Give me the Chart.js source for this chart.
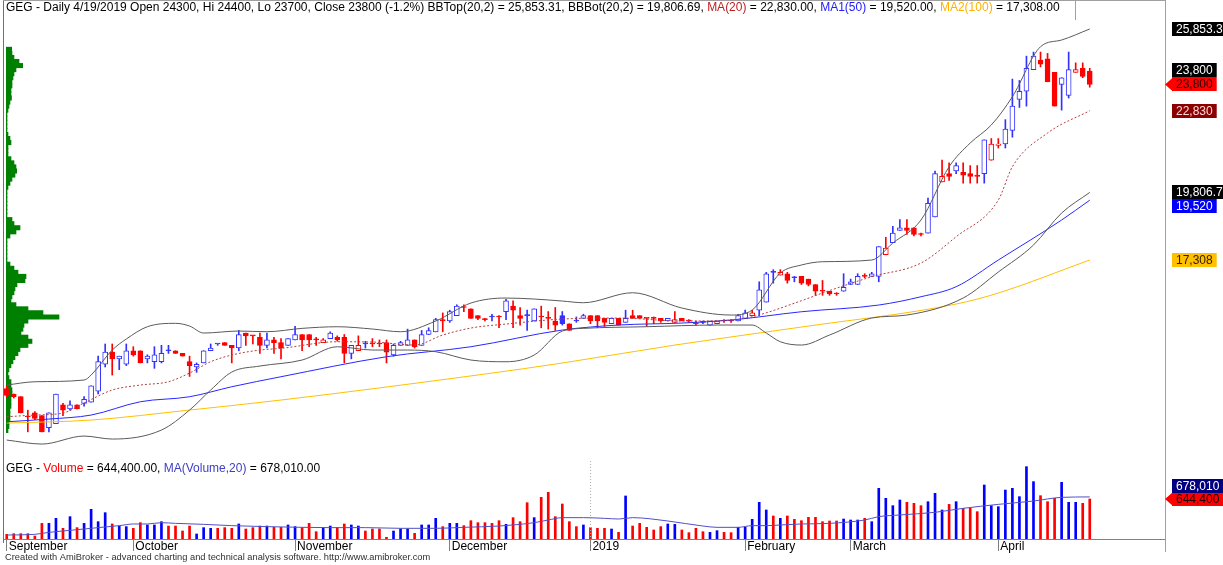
<!DOCTYPE html>
<html>
<head>
<meta charset="utf-8">
<script src="https://cdn.jsdelivr.net/npm/chart.js@4.4.1/dist/chart.umd.min.js"></script>
<style>
  html, body { margin: 0; padding: 0; background: #fff; }
  #wrap { position: relative; width: 1223px; height: 565px; overflow: hidden; }
  canvas { position: absolute; left: 0; }
</style>
</head>
<body>
<div id="wrap">
  <canvas id="vap" width="200" height="459" style="top:0"></canvas>
  <canvas id="price" width="1223" height="459" style="top:0"></canvas>
  <canvas id="vol" width="1223" height="106" style="top:459px"></canvas>
</div>
<script>
// month labels on the time axis and the bar index where each month starts
const months = ['September', 'October', 'November', 'December', '2019', 'February', 'March', 'April'];
const monthStart = [0, 18, 41, 63, 83, 105, 120, 141];

// daily OHLC, Sep 2018 .. 19 Apr 2019
const opens = [12550,12350,12250,11500,11650,11550,11100,11250,11950,11800,11950,12000,12050,12450,13450,13900,13650,13450,13950,13950,
  13650,13550,13550,13950,13950,13850,13550,13350,13500,13950,14200,14250,14150,14050,14600,14500,14450,14150,14350,14250,
  14150,14350,14550,14550,14350,14250,14400,14450,14450,13850,13950,14200,14200,14200,14250,13800,14150,14150,14350,14150,
  14550,14650,15100,15050,15250,15550,15500,15250,15100,15200,15200,15400,15600,15250,15250,15050,15200,15150,15050,15250,
  14950,15050,15150,15250,15250,15150,14950,15150,15000,15250,15250,15150,15150,15150,15050,15000,15150,15050,14950,15000,
  14900,14950,15050,15050,15050,15150,15250,15450,15750,16850,16750,16800,16650,16700,16600,16400,16150,16150,16050,16150,
  16400,16400,16700,16700,16700,17500,17950,18400,18500,18500,18250,18300,18900,20200,20500,20600,20550,20500,20450,20500,
  21000,21550,21600,22100,23250,23550,24350,24700,24750,24250,23800,23400,24250,24400,24300];
const highs = [12650,12350,12250,11750,11700,11550,11650,12350,12000,12100,11950,12250,12650,13750,14200,14200,13750,14200,14100,13950,
  13800,14100,14150,14150,13950,13850,13750,13500,13950,14200,14200,14250,14150,14700,14600,14500,14600,14600,14450,14400,
  14400,14850,14550,14550,14450,14400,14650,14500,14550,14150,14500,14300,14400,14350,14350,14200,14300,14750,14350,14700,
  14800,15150,15350,15450,15650,15650,15500,15250,15150,15300,15250,15850,15800,15550,15450,15500,15600,15400,15550,15400,
  14950,15200,15300,15250,15250,15150,15150,15150,15450,15450,15250,15150,15200,15150,15150,15400,15150,15100,15050,15050,
  15050,15050,15100,15100,15300,15450,15450,16500,16850,16950,16950,16850,16700,16700,16600,16400,16550,16150,16100,16800,
  16600,16800,16800,16850,17800,18150,18550,18800,18800,18500,18300,19600,20600,21000,20900,20900,20900,20800,20800,21750,
  21800,21800,22500,24000,23950,24850,25000,25000,24950,24250,24050,25000,24600,24600,24400];
const lows = [12250,12200,11650,10950,11400,10950,10950,11250,11550,11750,11800,11900,12050,12350,13350,13050,13250,13400,13750,13500,
  13500,13300,13500,13850,13850,13750,13000,13150,13500,13950,14150,14150,13500,13950,14150,14200,13850,14050,13850,13650,
  14150,14350,13950,14100,14150,14250,14400,14300,13500,13650,13950,14050,14100,14100,13500,13750,14150,14150,14050,14150,
  14550,14650,14650,15000,15250,15400,15150,15100,15050,15050,14800,15100,14800,14900,14700,15050,14800,14750,14700,14900,
  14700,15000,15150,14950,14800,14850,14950,14900,15000,15150,15150,14850,14950,15000,15050,15000,15050,15000,14900,14950,
  14900,14950,15000,15000,15050,15150,15250,15250,15750,16450,16750,16450,16500,16400,16350,16000,16000,16000,16000,16150,
  16400,16400,16650,16700,16500,17500,17950,18400,18250,18200,18200,18300,18900,20200,20250,20500,20150,20150,20150,20150,
  21000,21450,21450,21850,22950,23000,24350,24450,23900,23000,22850,23300,24250,24050,23700];
const closes = [12300,12250,11650,11500,11450,10950,11650,12350,11750,11950,11800,12150,12650,13550,13900,13650,13750,13950,13800,13500,
  13750,13800,13850,13950,13850,13750,13400,13450,13950,14050,14200,14150,14050,14550,14500,14500,14150,14350,14250,14050,
  14400,14550,14350,14350,14350,14350,14600,14350,13850,14150,14150,14200,14200,14200,13900,14150,14250,14350,14100,14550,
  14700,15100,15050,15400,15600,15550,15150,15150,15100,15200,15200,15800,15450,15150,15250,15500,15200,15150,14900,14950,
  14700,15050,15250,15050,15050,15000,15150,14900,15150,15150,15150,15150,15150,15050,15150,15100,15050,15050,14950,15000,
  15050,15050,15050,15050,15250,15350,15350,16200,16800,16850,16850,16550,16650,16450,16400,16150,16150,16050,16050,16300,
  16500,16700,16700,16800,17800,17750,18300,18500,18400,18250,18250,19400,20500,20400,20400,20800,20450,20400,20400,21750,
  21600,21600,22150,23000,23550,24400,24850,24550,23900,23000,24050,24350,24350,24100,23800];
const volumes = [75000,86000,86000,86000,48000,252000,252000,333000,172000,360000,183000,252000,478000,279000,424000,242000,209000,199000,172000,263000,
  226000,226000,279000,209000,209000,129000,209000,81000,183000,172000,172000,183000,172000,242000,161000,183000,209000,209000,188000,188000,
  226000,199000,183000,252000,118000,183000,209000,183000,242000,226000,209000,129000,161000,161000,27000,129000,165000,161000,91000,226000,
  226000,333000,199000,252000,252000,215000,295000,263000,263000,252000,295000,236000,344000,279000,585000,344000,671000,752000,360000,564000,
  279000,199000,226000,183000,172000,172000,161000,107000,693000,209000,252000,188000,145000,199000,242000,236000,145000,102000,172000,118000,
  107000,134000,107000,102000,188000,188000,317000,591000,467000,371000,333000,371000,317000,295000,349000,349000,279000,290000,290000,322000,
  306000,306000,333000,279000,816000,655000,537000,628000,591000,575000,537000,601000,736000,467000,558000,601000,494000,494000,440000,870000,
  537000,521000,789000,816000,682000,1165000,924000,698000,601000,655000,913000,591000,591000,575000,644400];

// indicator lines at these bar indexes
const ma20Bar = [0,4,8,11,15,19,23,26,29,32,36,39,47,52,58,62,66,71,79,87,96,103,106,113,116,123,130,135,141,143,148,154];
const ma20 = [11508,11571,11645,12015,12496,12681,12803,13125,13543,13791,13976,14039,14283,14272,14161,14531,14790,14938,15123,15160,
  15049,15086,15208,15800,16085,16688,17195,18168,19526,20758,22005,22830];
const ma50Bar = [0,6,12,19,26,32,39,54,66,79,87,96,103,113,124,130,135,141,150,154];
const ma50 = [11323,11423,11571,12063,12248,12618,12988,13728,14098,14716,14901,14975,15086,15393,15641,15948,16318,17306,18786,19520];
const ma100Bar = [0,12,26,39,68,79,95,113,135,141,154];
const ma100 = [11275,11386,11756,12126,13088,13495,14161,14827,15678,16085,17308];
const bbTopBar = [0,4,11,12,15,17,20,24,26,28,33,37,42,47,52,56,61,66,71,75,79,82,89,96,103,106,110,113,116,123,126,130,134,137,140,143,147,150,154];
const bbTop = [12681,12803,12866,13051,13976,14383,14839,14964,14864,14605,14679,14654,14778,14838,14753,14653,15049,15715,15900,15863,
  15789,15726,16096,15530,15271,15456,16825,17121,17243,17306,17935,18786,20758,21635,22301,23348,25198,25446,25853.31];
const bbBotBar = [0,5,11,15,22,26,29,32,36,42,47,52,57,61,66,71,75,79,82,91,101,106,108,110,113,117,123,128,136,141,146,150,154];
const bbBot = [10646,10498,10794,10683,11016,11756,12496,13162,13384,13606,14098,13976,13976,13914,13606,13543,13791,14679,14778,14839,
  14901,14901,14605,14283,14161,14531,15160,15271,15900,16862,17861,19045,19806.69];
const vmaBar = [0,4,6,8,11,13,16,18,20,22,24,28,32,37,42,46,51,56,61,65,70,72,75,77,79,82,85,87,89,94,99,101,104,106,108,110,113,117,122,124,127,132,136,141,146,150,154];
const vma = [64000,75000,107000,129000,161000,183000,215000,242000,242000,263000,252000,236000,215000,199000,188000,183000,183000,172000,172000,188000,
  209000,226000,263000,306000,344000,344000,333000,322000,344000,290000,209000,188000,188000,215000,215000,226000,242000,252000,306000,360000,
  387000,430000,494000,558000,612000,671000,678010];

// volume-at-price profile (relative units), one bin every vapStep from vapTop down
const vapTop = 25100, vapStep = 150;
const vapVolume = [5.7,6,8,13,16.7,10,8,7,6,6, 5,5,5.5,4,3,2,1,1,1,1, 1,2,4,5,2,2,2,5,8,10, 10.7,9,6,4,2,1,1,1,1,1,
  1,1,6,8,14,10,4,1,1,1, 1,1,1,4,8,12,20,19,11,9, 8,6,5,10,22,37,53,22,18,17, 15,22,26,22,14,12,9,7,5,3,
  2,3,5,5,6,6,5,5,5,4, 4,4,3,3,2];

const BLUE = '#3232ff', RED = '#ff0000';
const FONT = '"Liberation Sans", Arial, sans-serif';
const last = closes.length - 1;
const xMin = -0.53, xMax = 164.7;
const priceMin = 9945, priceMax = 26186;

function candleColor(i) { return i > 0 && closes[i] > closes[i - 1] ? BLUE : RED; }
function volColor(i) { return closes[i] > opens[i] ? '#0000ff' : '#ff0000'; }
function pts(bars, vals) { return bars.map((b, k) => ({ x: b, y: vals[k] })); }
function fmt(v, d) { return v.toLocaleString('en-US', { minimumFractionDigits: d, maximumFractionDigits: d }); }

function drawRuns(ctx, x, y, runs) {
  ctx.font = '12px ' + FONT;
  ctx.textBaseline = 'alphabetic';
  ctx.textAlign = 'left';
  runs.forEach(r => { ctx.fillStyle = r[1]; ctx.fillText(r[0], x, y); x += ctx.measureText(r[0]).width; });
}

function drawTag(ctx, y, text, bg, fg, arrow) {
  ctx.font = '12px ' + FONT;
  const h = 14, x = 1172;
  const w = ctx.measureText(text).width + 8;
  ctx.fillStyle = bg;
  ctx.fillRect(x, Math.round(y - h / 2), w, h);
  if (arrow) {
    ctx.beginPath();
    ctx.moveTo(1165, y); ctx.lineTo(x + 1, y - h / 2); ctx.lineTo(x + 1, y + h / 2);
    ctx.closePath(); ctx.fill();
  }
  ctx.fillStyle = fg;
  ctx.textBaseline = 'middle';
  ctx.textAlign = 'left';
  ctx.fillText(text, x + 4, Math.round(y - h / 2) + h / 2 + 0.5);
}

// first tag stays on its value, the others are pushed off it
function placeTags(tags, h) {
  const placed = [tags[0]];
  tags.slice(1).forEach(t => {
    placed.forEach(p => {
      if (Math.abs(t.y - p.y) < h) t.y = t.value >= p.value ? p.y - h : p.y + h;
    });
    placed.push(t);
  });
  return tags;
}

function line(ctx, x1, y1, x2, y2, color, dash) {
  ctx.save();
  ctx.strokeStyle = color; ctx.lineWidth = 1;
  ctx.setLineDash(dash || []);
  ctx.beginPath(); ctx.moveTo(x1, y1); ctx.lineTo(x2, y2); ctx.stroke();
  ctx.restore();
}

// ---------- volume at price (drawn under the price panel) ----------
new Chart(document.getElementById('vap'), {
  type: 'bar',
  data: {
    datasets: [{
      data: vapVolume.map((v, k) => ({ x: v, y: vapTop - k * vapStep })),
      backgroundColor: '#008000',
      barThickness: 4.4,
      borderWidth: 0
    }]
  },
  options: {
    indexAxis: 'y',
    responsive: false,
    animation: false,
    layout: { padding: { left: 6, top: 20, right: 0, bottom: 0 } },
    plugins: { legend: { display: false }, tooltip: { enabled: false } },
    scales: {
      x: { type: 'linear', min: 0, max: 194, display: false },
      y: { type: 'linear', min: priceMin, max: priceMax, offset: false, display: false }
    }
  }
});

// ---------- price panel ----------
const priceDecor = {
  id: 'priceDecor',
  afterDraw(chart) {
    const ctx = chart.ctx, ys = chart.scales.y;
    line(ctx, 3.5, 0, 3.5, 459, '#707070');
    line(ctx, 3, 0.5, 1165, 0.5, '#a0a0a0');
    line(ctx, 1165.5, 0, 1165.5, 459, '#a0a0a0');
    line(ctx, 1075.5, 0, 1075.5, 20, '#a0a0a0');
    line(ctx, 3, 459.5, 1165, 459.5, '#a0a0a0');
    const chg = (closes[last] - closes[last - 1]) / closes[last - 1] * 100;
    drawRuns(ctx, 6, 11, [
      ['GEG - Daily 4/19/2019 Open ' + opens[last] + ', Hi ' + highs[last] + ', Lo ' + lows[last] + ', Close ' + closes[last] +
        ' (' + chg.toFixed(1) + '%) BBTop(20,2) = ' + fmt(bbTop[bbTop.length - 1], 2) + ', BBBot(20,2) = ' + fmt(bbBot[bbBot.length - 1], 2) + ', ', '#000'],
      ['MA(20)', '#c02020'], [' = ' + fmt(ma20[ma20.length - 1], 2) + ', ', '#000'],
      ['MA1(50)', '#2020ff'], [' = ' + fmt(ma50[ma50.length - 1], 2) + ', ', '#000'],
      ['MA2(100)', '#ffb000'], [' = ' + fmt(ma100[ma100.length - 1], 2), '#000']
    ]);
    const v1 = v => v.toLocaleString('en-US', { maximumFractionDigits: 1 });
    const tags = placeTags([
      { value: closes[last], bg: '#ff0000', fg: '#200000', arrow: true },
      { value: closes[last], bg: '#000000', fg: '#ffffff' },
      { value: bbTop[bbTop.length - 1], bg: '#000000', fg: '#ffffff' },
      { value: ma20[ma20.length - 1], bg: '#8b0000', fg: '#ffd8d8' },
      { value: bbBot[bbBot.length - 1], bg: '#000000', fg: '#ffffff' },
      { value: ma50[ma50.length - 1], bg: '#0000ff', fg: '#ffffff' },
      { value: ma100[ma100.length - 1], bg: '#ffc000', fg: '#302000' }
    ].map(t => Object.assign(t, { y: ys.getPixelForValue(t.value) })), 14);
    tags.forEach(t => drawTag(ctx, t.y, v1(t.value), t.bg, t.fg, t.arrow));
  }
};

new Chart(document.getElementById('price'), {
  type: 'bar',
  data: {
    datasets: [
      { type: 'line', data: pts(bbTopBar, bbTop), borderColor: '#5a5a5a', borderWidth: 1, pointRadius: 0, cubicInterpolationMode: 'monotone', order: 0 },
      { type: 'line', data: pts(bbBotBar, bbBot), borderColor: '#5a5a5a', borderWidth: 1, pointRadius: 0, cubicInterpolationMode: 'monotone', order: 0 },
      { type: 'line', data: pts(ma20Bar, ma20), borderColor: '#b04040', borderWidth: 1, borderDash: [2, 2], pointRadius: 0, cubicInterpolationMode: 'monotone', order: 0 },
      { type: 'line', data: pts(ma50Bar, ma50), borderColor: '#2828ff', borderWidth: 1, pointRadius: 0, cubicInterpolationMode: 'monotone', order: 0 },
      { type: 'line', data: pts(ma100Bar, ma100), borderColor: '#ffc000', borderWidth: 1, pointRadius: 0, cubicInterpolationMode: 'monotone', order: 0 },
      {
        data: closes.map((c, i) => ({ x: i, y: [Math.min(opens[i], c), Math.max(opens[i], c)] })),
        backgroundColor: ctx => { const i = ctx.dataIndex || 0; return closes[i] > opens[i] ? '#ffffff' : candleColor(i); },
        borderColor: ctx => candleColor(ctx.dataIndex || 0),
        borderWidth: 1, borderSkipped: false, barThickness: 5, minBarLength: 1, grouped: false, order: 1
      },
      {
        data: closes.map((c, i) => ({ x: i, y: [lows[i], highs[i]] })),
        backgroundColor: ctx => candleColor(ctx.dataIndex || 0),
        borderWidth: 0, barThickness: 1, minBarLength: 1, grouped: false, order: 2
      }
    ]
  },
  options: {
    responsive: false,
    animation: false,
    layout: { padding: { left: 3, right: 58, top: 20, bottom: 0 } },
    plugins: { legend: { display: false }, tooltip: { enabled: false } },
    scales: {
      x: { type: 'linear', min: xMin, max: xMax, offset: false, display: false },
      y: { type: 'linear', min: priceMin, max: priceMax, display: false }
    }
  },
  plugins: [priceDecor]
});

// ---------- volume panel ----------
const volDecor = {
  id: 'volDecor',
  afterDraw(chart) {
    const ctx = chart.ctx, xs = chart.scales.x, ys = chart.scales.y;
    line(ctx, 3.5, 0, 3.5, 84, '#707070');
    line(ctx, 1165.5, 0, 1165.5, 93, '#a0a0a0');
    const xj = Math.round(xs.getPixelForValue(monthStart[4])) + 0.5;
    line(ctx, xj, 2, xj, 80, '#b0b0b0', [1, 2]);
    drawRuns(ctx, 6, 13, [
      ['GEG - ', '#000'], ['Volume', '#ff0000'], [' = ' + fmt(volumes[last], 2) + ', ', '#000'],
      ['MA(Volume,20)', '#4040c0'], [' = ' + fmt(vma[vma.length - 1], 2), '#000']
    ]);
    ctx.font = '9.3px ' + FONT;
    ctx.fillStyle = '#303030';
    ctx.textBaseline = 'alphabetic';
    ctx.fillText('Created with AmiBroker - advanced charting and technical analysis software. http://www.amibroker.com', 5, 101);
    const tags = placeTags([
      { value: volumes[last], bg: '#ff0000', fg: '#200000', arrow: true },
      { value: vma[vma.length - 1], bg: '#000080', fg: '#ffffff' }
    ].map(t => Object.assign(t, { y: ys.getPixelForValue(t.value) })), 13);
    tags.forEach(t => drawTag(ctx, t.y, t.value.toLocaleString('en-US', { maximumFractionDigits: 0 }), t.bg, t.fg, t.arrow));
  }
};

new Chart(document.getElementById('vol'), {
  type: 'bar',
  data: {
    datasets: [
      { type: 'line', data: pts(vmaBar, vma), borderColor: '#5050c8', borderWidth: 1, pointRadius: 0, cubicInterpolationMode: 'monotone', order: 0 },
      {
        data: volumes.map((v, i) => ({ x: i, y: v })),
        backgroundColor: ctx => volColor(ctx.dataIndex || 0),
        borderWidth: 0, barThickness: 2, grouped: false, order: 1
      }
    ]
  },
  options: {
    responsive: false,
    animation: false,
    layout: { padding: { left: 3, right: 58, top: 0, bottom: 0 } },
    plugins: { legend: { display: false }, tooltip: { enabled: false } },
    scales: {
      x: {
        type: 'linear', min: xMin, max: xMax, offset: false, position: 'bottom',
        afterFit: s => { s.height = 26; },
        afterBuildTicks: s => { s.ticks = monthStart.map(v => ({ value: v })); },
        grid: { offset: false, drawOnChartArea: false, drawTicks: true, tickLength: 12, color: '#808080' },
        border: { display: true, color: '#808080' },
        ticks: {
          autoSkip: false, maxRotation: 0, align: 'start', padding: -12, labelOffset: 2,
          color: '#000', font: { family: FONT, size: 12 },
          callback: v => months[monthStart.indexOf(v)]
        }
      },
      y: { type: 'linear', min: 0, max: 1288800, display: false }
    }
  },
  plugins: [volDecor]
});
</script>
</body>
</html>
